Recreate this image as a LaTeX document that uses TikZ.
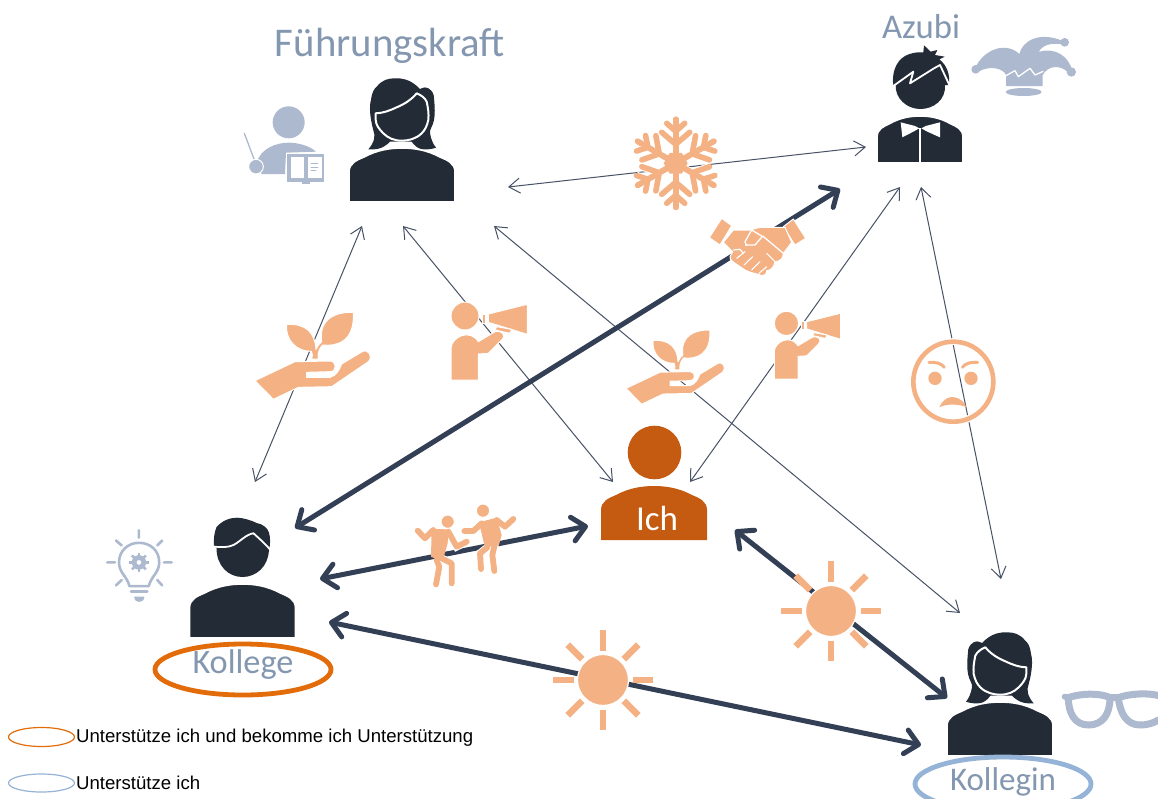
\documentclass[tikz,border=0pt]{standalone}
\usepackage{fontspec}
\setmainfont{Liberation Sans}
\newfontfamily\handfont{Carlito}
\usetikzlibrary{arrows.meta}
\definecolor{navy}{HTML}{232B37}
\definecolor{lineC}{HTML}{333F55}
\definecolor{iconO}{HTML}{F4B183}
\definecolor{iconS}{HTML}{ADB9CE}
\definecolor{ichC}{HTML}{C55A11}
\definecolor{labelC}{HTML}{8497B0}
\definecolor{ringO}{HTML}{E36C0A}
\definecolor{ringB}{HTML}{95B3D7}
\tikzset{
  thinlink/.style={draw=lineC!90,line width=1pt,{Straight Barb[length=11pt,width=15pt]}-{Straight Barb[length=11pt,width=15pt]}},
  thicklink/.style={draw=lineC,line width=5pt,line cap=round,{Straight Barb[length=13pt,width=24pt,round]}-{Straight Barb[length=13pt,width=24pt,round]}},
  ico/.style={fill=iconO,draw=white,line width=1pt,line join=round},
  icoplain/.style={fill=iconO,draw=none},
  istroke/.style={draw=iconO,line cap=round,line join=round,line width=#1,preaction={draw=white,line width=#1+2pt}},
  ray/.style={draw=iconO,line width=6.6pt},
  slatefill/.style={fill=iconS,draw=none},
  slateline/.style={draw=iconS,line width=#1,line cap=round,line join=round},
  person/.style={fill=navy,draw=white,line width=1.6pt,line join=round},
  hand/.style={text=labelC,inner sep=0pt,font=\handfont},
  legend/.style={text=black,inner sep=0pt,anchor=west,font=\fontsize{18.6}{20}\selectfont},
  pics/bodyshape/.style={code={
    \path[#1] (-53,54) -- (-53,24) .. controls (-53,15) and (-45,12) .. (-38,9)
      .. controls (-25,2) and (-12,0) .. (0,0) .. controls (12,0) and (25,2) .. (38,9)
      .. controls (45,12) and (53,15) .. (53,24) -- (53,54) -- cycle;
  }},
  pics/woman/.style={code={
    \path[fill=navy] (-33.7,1.3) .. controls (-28,-5) and (-26,-12) .. (-28.7,-18)
      .. controls (-32,-30) and (-33,-42) .. (-31,-48) .. controls (-30,-56) and (-28,-59) .. (-25.3,-61.3)
      .. controls (-20,-68) and (-14,-69.7) .. (-7,-69.7) .. controls (0,-70) and (7,-68) .. (11.3,-64.7)
      .. controls (14,-63) and (16,-61) .. (18,-59) .. controls (22,-61) and (25,-61) .. (26.3,-59.7)
      .. controls (31,-57) and (32,-53) .. (32,-49.7) .. controls (33,-40) and (33,-34) .. (32,-28)
      .. controls (31,-22) and (27,-18) .. (28,-14.7) .. controls (29,-9) and (31,-4) .. (34,-0.3)
      .. controls (29,1.5) and (24,1.5) .. (19.7,1.3) .. controls (15,0) and (12,-3) .. (9.7,-6.3)
      -- (-12,-6.3) .. controls (-15,-3) and (-20,0) .. (-24,0.8) .. controls (-28,1.5) and (-31,1.5) .. (-33.7,1.3) -- cycle;
    \path[fill=navy,draw=white,line width=2pt,line join=round] (-26.3,-34.7) .. controls (-18,-35) and (-11,-38) .. (-5.3,-40.7)
      .. controls (3,-44) and (10,-49) .. (14.7,-54.7) .. controls (19,-53) and (23,-50) .. (24.7,-46.3)
      .. controls (26,-40) and (27,-34) .. (26.3,-28) .. controls (25,-22) and (23,-18) .. (19.7,-14.7)
      .. controls (14,-9) and (6,-7.3) .. (0,-7.3) .. controls (-8,-7.3) and (-14,-10) .. (-18.7,-14.7)
      .. controls (-23,-19) and (-26,-23) .. (-26.3,-28) -- cycle;
    \pic {bodyshape={person}};
  }},
  pics/man/.style={code={
    \path[fill=navy] (-28.7,-38.2) .. controls (-29,-46) and (-28,-52) .. (-26,-56.8)
      .. controls (-21,-63) and (-13,-66.3) .. (-5.7,-66.3) .. controls (0,-66.3) and (8,-64) .. (14.5,-60.9)
      .. controls (20,-60) and (25,-56) .. (26.4,-51.7) .. controls (28,-46) and (28,-40) .. (26.4,-34)
      .. controls (26,-18) and (14,-7) .. (0,-7) .. controls (-14,-7) and (-26,-18) .. (-26,-36) -- cycle;
    \path[draw=white,line width=1.8pt] (-29.5,-37.5) .. controls (-22,-36.5) and (-14,-36.5) .. (-9,-39)
      .. controls (-3,-42) and (4,-50) .. (11,-50.7) .. controls (15,-47) and (23,-40) .. (27.5,-34.5);
    \pic {bodyshape={person}};
  }},
  pics/plant/.style={code={
    \path[ico] (45,272) -- (165,215) -- (270,213) .. controls (290,213) and (292,245) .. (270,245) -- (200,247) -- (200,262) -- (270,262)
      .. controls (290,258) and (300,235) .. (305,222) -- (370,183) .. controls (385,178) and (400,200) .. (385,215)
      -- (275,290) -- (175,292) -- (100,328) -- cycle;
    \path[ico] (222,207) -- (235,207) .. controls (232,190) and (238,175) .. (248,165)
      .. controls (290,170) and (345,155) .. (340,67) .. controls (290,65) and (235,85) .. (245,155)
      .. controls (238,160) and (232,168) .. (228,178) .. controls (225,130) and (200,100) .. (140,103)
      .. controls (135,150) and (170,185) .. (214,184) .. controls (218,190) and (218,200) .. (215,207) -- cycle;
  }},
  pics/shouter/.style={code={
    \path[ico] (675,78) circle (42);
    \path[ico] (633,270) -- (633,175) .. controls (635,140) and (690,115) .. (715,155) -- (765,125) .. controls (785,120) and (800,135) .. (785,150)
      -- (745,190) -- (715,192) -- (715,270) -- cycle;
    \path[ico] (745,72) -- (862,43) -- (862,133) -- (745,97) -- cycle;
    \path[ico] (727,72) -- (736,72) -- (736,100) -- (727,100) -- cycle;
    \path[ico] (770,110) -- (815,118) -- (810,130) -- (765,120) -- cycle;
  }},
  pics/sun/.style={code={
    \foreach \a in {0,45,...,315}{\draw[ray] (\a:29.5) -- (\a:50);}
    \path[ico,line width=1.2pt] (0,0) circle (25.5);
  }}
}
\begin{document}
\begin{tikzpicture}[x=1pt,y=-1pt]
\useasboundingbox (0,0) rectangle (1158,798);
\fill[white] (0,0) rectangle (1158,798);

% link end points
\coordinate (fa1) at (508,187); \coordinate (az1) at (866,147);
\coordinate (fk1) at (362,226); \coordinate (ko1) at (255,482);
\coordinate (fi1) at (403,226); \coordinate (ic1) at (613,482);
\coordinate (fn1) at (494,226); \coordinate (kn1) at (960,613);
\coordinate (az2) at (900,187); \coordinate (ic2) at (690,482);
\coordinate (az3) at (921,187); \coordinate (kn2) at (1001,579);
\coordinate (ko2) at (295,528); \coordinate (az4) at (840,189);
\coordinate (ko3) at (320,579); \coordinate (ic3) at (588,526);
\coordinate (ic4) at (735,530); \coordinate (kn3) at (947,698);
\coordinate (ko4) at (329,622); \coordinate (kn4) at (921,745);

% thin links
\draw[thinlink] (fa1) -- (az1);
\draw[thinlink] (fk1) -- (ko1);
\draw[thinlink] (fi1) -- (ic1);
\draw[thinlink] (fn1) -- (kn1);
\draw[thinlink] (az2) -- (ic2);
\draw[thinlink] (az3) -- (kn2);
% thick links
\draw[thicklink] (ko2) -- (az4);
\draw[thicklink] (ko3) -- (ic3);
\draw[thicklink] (ic4) -- (kn3);
\draw[thicklink] (ko4) -- (kn4);

% persons
\pic at (402,148) {woman};
\pic[xscale=-1] at (1000,702) {woman};
\pic at (242.5,584) {man};
% Azubi
\begin{scope}[shift={(860,0)},scale=1/3]
  \path[fill=navy] (100,255) .. controls (95,225) and (105,185) .. (135,168) .. controls (150,160) and (170,155) .. (190,157)
    -- (192,136) -- (212,155) -- (232,150) -- (225,165) -- (254,170) -- (238,178) .. controls (260,195) and (272,225) .. (266,255)
    -- (255,255) .. controls (258,300) and (220,327) .. (181,327) .. controls (140,327) and (105,295) .. (107,255) -- cycle;
  \path[draw=white,line width=1.8pt,line join=round] (100,258) -- (160,215) -- (150,250) -- (222,205) -- (240,195) -- (268,255);
\end{scope}
\pic[xscale=0.81,yscale=0.87] at (920,116) {bodyshape={person}};
\begin{scope}[shift={(860,0)},scale=1/3]
  \path[fill=white] (122,367) -- (165,378) -- (178,385) -- (160,395) -- (127,412) -- cycle;
  \path[fill=white] (240,367) -- (197,378) -- (184,385) -- (202,395) -- (240,412) -- cycle;
  \path[draw=white,line width=1.6pt] (180,385) -- (180,490);
\end{scope}
% Ich
\path[fill=ichC] (654.5,452.5) circle (26.8);
\pic at (654,486) {bodyshape={fill=ichC}};

% Teacher
\begin{scope}[shift={(230,20)},scale=1/3]
  \path[slatefill] (176,307) circle (48);
  \path[slatefill] (80,430) .. controls (90,385) and (140,368) .. (176,368) .. controls (205,368) and (240,378) .. (258,395) -- (168,398) -- (165,462) -- (95,462) -- cycle;
  \draw[slateline=1.3pt] (43,340) -- (75,425);
  \path[fill=iconS,draw=white,line width=1pt] (78,440) circle (22);
  \path[slatefill] (172,402) rectangle (283,485);
  \path[slatefill] (215,485) rectangle (240,491);
  \path[fill=white] (183,412) rectangle (222,473);
  \path[fill=white] (234,412) rectangle (275,473);
  \draw[slateline=0.9pt] (243,430) -- (264,430) (243,441) -- (264,441) (243,452) -- (258,452);
\end{scope}
% Jester hat
\begin{scope}[shift={(860,0)},scale=1/3]
  \path[slatefill] (345,205) .. controls (372,145) and (440,125) .. (478,162) .. controls (488,120) and (540,95) .. (606,122)
    -- (606,133) .. controls (570,128) and (548,135) .. (536,156) .. controls (585,140) and (628,170) .. (636,212)
    -- (622,215) .. controls (600,195) and (565,195) .. (548,225) -- (548,258) -- (438,258) -- (438,225)
    .. controls (430,205) and (390,195) .. (355,215) -- cycle;
  \path[slatefill] (347,208) circle (13) (614,127) circle (13) (634,216) circle (14);
  \path[slatefill] (491,276) ellipse (54 and 12);
  \draw[draw=white,line width=1.3pt,line join=round] (436,228) -- (465,212) -- (475,230) -- (510,205) -- (525,225) -- (550,214);
\end{scope}
% Light bulb
\begin{scope}[shift={(0,510)},scale=1/2.958]
  \draw[slateline=2.6pt] (383,225) .. controls (375,195) and (352,185) .. (352,155) .. controls (352,120) and (380,97) .. (411,97)
    .. controls (445,97) and (471,120) .. (471,155) .. controls (471,185) and (448,195) .. (440,225) -- cycle;
  \draw[draw=iconS,line width=4.8pt] (411,155) circle (15);
  \foreach \a in {0,45,...,315}{\draw[draw=iconS,line width=2.6pt] (411,155) ++(\a:20) -- ++(\a:9);}
  \draw[slateline=2.6pt] (317,155) -- (340,155) (485,155) -- (508,155) (411,60) -- (411,82)
    (343,90) -- (360,105) (480,90) -- (465,105) (343,223) -- (360,207) (480,223) -- (465,207);
  \draw[slateline=3pt] (388,241) -- (435,241);
  \path[slatefill] (397,256) -- (427,256) .. controls (427,268) and (418,272) .. (412,272) .. controls (405,272) and (397,268) .. (397,256) -- cycle;
\end{scope}
% Glasses
\begin{scope}[shift={(760,550)},scale=1/3]
  \draw[slateline=7pt] (925,443) .. controls (960,430) and (1020,428) .. (1050,443) .. controls (1050,490) and (1030,525) .. (985,525) .. controls (945,525) and (925,490) .. (925,443) -- cycle;
  \draw[slateline=7pt] (1075,443) .. controls (1110,430) and (1170,428) .. (1200,438) (1075,443) .. controls (1080,490) and (1100,525) .. (1140,525) .. controls (1160,525) and (1180,520) .. (1195,510);
  \draw[slateline=7pt] (1050,443) -- (1075,443);
  \draw[slateline=6pt] (914,440) -- (925,443);
\end{scope}

% Snowflake
\begin{scope}[shift={(675.7,163.3)}]
  \foreach \a in {30,90,...,330}{
    \begin{scope}[rotate=\a]
      \draw[istroke=5.6pt] (8,0) -- (44,0);
      \draw[istroke=5.6pt] (19,0) -- (31,-14);
      \draw[istroke=5.6pt] (19,0) -- (31,14);
      \draw[istroke=5.6pt] (32,0) -- (40,-9);
      \draw[istroke=5.6pt] (32,0) -- (40,9);
    \end{scope}}
  \foreach \a in {30,90,...,330}{\draw[draw=iconO,line width=5.6pt,line cap=round] (0,0) -- (\a:44);}
  \path[icoplain] (0:12) -- (60:12) -- (120:12) -- (180:12) -- (240:12) -- (300:12) -- cycle;
\end{scope}

% Handshake
\begin{scope}[shift={(620,110)},scale=1/3]
  \path[ico] (305,325) -- (335,347) -- (300,405) -- (268,383) -- cycle;
  \path[ico] (520,327) -- (557,385) -- (525,405) -- (490,350) -- cycle;
  \path[ico] (340,360) -- (390,360) -- (420,352) -- (495,352) -- (515,397) -- (490,430) .. controls (490,445) and (480,455) .. (465,455)
    .. controls (462,475) and (448,482) .. (440,482) .. controls (440,498) and (425,500) .. (415,493) .. controls (400,490) and (385,485) .. (375,480)
    .. controls (350,462) and (325,450) .. (330,440) -- (338,425) -- (310,397) -- cycle;
  \draw[draw=white,line width=1.3pt,line join=round] (375,405) -- (405,405) -- (428,378) -- (490,430);
  \draw[draw=white,line width=1.3pt,line join=round] (425,378) -- (395,360) -- (375,395) -- (380,408);
  \draw[draw=white,line width=1.3pt,line join=round] (340,420) -- (360,418) -- (370,430);
  \draw[draw=white,line width=1.1pt,line cap=round] (350,445) -- (375,425) (372,465) -- (398,440) (395,480) -- (420,455) (417,490) -- (440,470) (440,430) -- (465,455);
\end{scope}

% Plant on hand
\pic[shift={(240,290)},scale=1/3] at (0,0) {plant};
\pic[shift={(613.2,311)},scale=0.2844] at (0,0) {plant};
% Shouting persons
\pic[shift={(240,290)},scale=1/3] at (0,0) {shouter};
\pic[shift={(590.9,300.8)},scale=0.2897] at (0,0) {shouter};

% Angry face
\begin{scope}[shift={(600,300)},scale=1/3]
  \draw[draw=white,line width=7pt] (1060,245) circle (120);
  \draw[draw=iconO,line width=4.6pt] (1060,245) circle (120);
  \path[icoplain] (1005,235) circle (20) (1113,235) circle (20);
  \draw[draw=iconO,line width=3pt,line cap=round] (987,187) .. controls (1005,185) and (1025,190) .. (1033,202);
  \draw[draw=iconO,line width=3pt,line cap=round] (1133,187) .. controls (1115,185) and (1095,190) .. (1087,202);
  \path[icoplain] (1018,322) .. controls (1030,295) and (1050,288) .. (1065,292) .. controls (1080,295) and (1092,305) .. (1100,322) .. controls (1080,312) and (1040,310) .. (1018,322) -- cycle;
\end{scope}

% Suns
\pic at (831,611) {sun};
\pic at (603,680) {sun};

% Dancers
\begin{scope}[shift={(405,495)},scale=1/3]
  \path[ico] (128,80) circle (20) (234,47) circle (20);
  \draw[istroke=5.8pt] (38,107) -- (60,130) -- (85,105);
  \draw[istroke=5.8pt] (130,110) -- (155,155) -- (185,140);
  \draw[istroke=5.8pt] (95,195) -- (103,215) -- (93,268);
  \draw[istroke=5.8pt] (110,190) -- (140,205) -- (140,265);
  \path[icoplain] (80,102) -- (130,103) -- (128,145) -- (112,200) -- (78,185) -- cycle;
  \draw[istroke=5.8pt] (178,108) -- (205,108) -- (230,85);
  \draw[istroke=5.8pt] (275,75) -- (300,95) -- (325,72);
  \draw[istroke=5.8pt] (250,155) -- (225,175) -- (228,222);
  \draw[istroke=5.8pt] (270,145) -- (262,180) -- (268,228);
  \path[icoplain] (222,82) -- (275,68) -- (290,120) -- (282,150) -- (240,158) -- cycle;
\end{scope}

% Rings
\draw[ringO,line width=4.8pt] (243,669.5) ellipse (88 and 25.5);
\draw[ringB,line width=4.8pt] (1003,784) ellipse (88 and 27);

% Labels
\node[hand] (lblF) at (390,46) {\resizebox{230pt}{!}{F\"uhrungskraft}};
\node[hand] (lblA) at (921,27) {\resizebox{78pt}{!}{Azubi}};
\node[hand] (lblK) at (243,665) {\resizebox{101pt}{!}{Kollege}};
\node[hand] (lblN) at (1003,782) {\resizebox{106pt}{!}{Kollegin}};
\node[hand,text=white] (lblI) at (657,518) {\resizebox{42pt}{!}{Ich}};

% Legend
\draw[ringO,line width=1.2pt] (41.5,737) ellipse (33 and 9.5);
\draw[ringB,line width=1.2pt] (41.5,783) ellipse (33 and 9);
\node[legend] (legA) at (76,738) {Unterstütze ich und bekomme ich Unterstützung};
\node[legend] (legB) at (76,783) {Unterstütze ich};
\end{tikzpicture}
\end{document}
